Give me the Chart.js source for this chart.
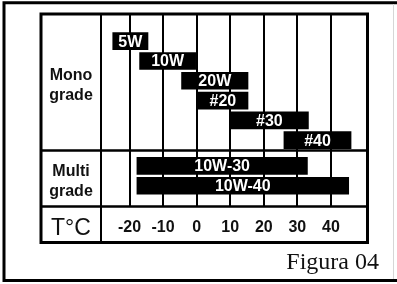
<!DOCTYPE html>
<html>
<head>
<meta charset="utf-8">
<script src="https://cdn.jsdelivr.net/npm/chart.js@4/dist/chart.umd.min.js"></script>
<style>
  html,body{margin:0;padding:0;background:#fff;}
  #wrap{width:397px;height:284px;}
</style>
</head>
<body>
<div id="wrap"><canvas id="oilChart" width="397" height="284"></canvas></div>
<script>
// oil grades vs usable ambient temperature (°C)
const grades   = ['5W','10W','20W','#20','#30','#40','10W-30','10W-40'];
const groups   = ['Mono','Mono','Mono','Mono','Mono','Mono','Multi','Multi'];
const minTemp  = [-25, -17, -4.5, 0, 10, 26, -17.8, -17.8];
const maxTemp  = [-14.5, 0, 15.3, 15.3, 33.3, 46, 33, 45.3];
const tempTicks = [-20, -10, 0, 10, 20, 30, 40];
const groupNames = ['Mono', 'Multi'];
const groupLabels = [['Mono','grade'], ['Multi','grade']];
const axisTitle = 'T°C';
const caption = 'Figura 04';

const SANS = '"Liberation Sans", Arial, Helvetica, sans-serif';
const GROUP_GAP = 0.3;   // extra space between mono and multi rows
const SEP_VALUE = 6.52;  // row line between the two groups
const LABEL_COL = 60;    // width of the left label column
const T_ROW = 36;        // height of the temperature row

// row slot for each grade: 1..n, multi grades pushed down a little
const slots = grades.map((g,i)=> i + 1 + (groups[i]==='Multi' ? GROUP_GAP : 0));
const bars = grades.map((g,i)=> ({ x: [minTemp[i], maxTemp[i]], y: slots[i] }));

const tablePlugin = {
  id: 'tableFrame',
  afterDatasetsDraw(chart){
    // white labels inside the bars
    const ctx = chart.ctx;
    const meta = chart.getDatasetMeta(0);
    ctx.save();
    ctx.fillStyle = '#fff';
    ctx.font = 'bold 16px ' + SANS;
    ctx.textAlign = 'center';
    ctx.textBaseline = 'middle';
    meta.data.forEach((el,i)=>{
      ctx.fillText(grades[i], (el.x + el.base)/2, el.y + 1);
    });
    ctx.restore();
  },
  afterDraw(chart){
    const {ctx, chartArea:a, scales:{y}} = chart;
    const left = a.left - LABEL_COL, right = a.right;
    const top = a.top, bottom = a.bottom + T_ROW;
    const sepY = y.getPixelForValue(SEP_VALUE);
    ctx.save();
    ctx.strokeStyle = '#000';
    // inner horizontal lines
    ctx.lineWidth = 2.5;
    ctx.beginPath();
    ctx.moveTo(left, sepY); ctx.lineTo(right, sepY);
    ctx.moveTo(left, a.bottom); ctx.lineTo(right, a.bottom);
    ctx.stroke();
    ctx.lineWidth = 2;
    ctx.beginPath();
    ctx.moveTo(a.left, top); ctx.lineTo(a.left, bottom);
    ctx.stroke();
    // table frame
    ctx.lineWidth = 3;
    ctx.strokeRect(left, top, right - left, bottom - top);
    // page frame
    ctx.beginPath();
    ctx.moveTo(4, 1.5); ctx.lineTo(4, 282);
    ctx.moveTo(2.5, 2.8); ctx.lineTo(397, 2.8);
    ctx.moveTo(2.5, 280.5); ctx.lineTo(397, 280.5);
    ctx.stroke();
    ctx.strokeStyle = '#d6d6d6';
    ctx.lineWidth = 1;
    ctx.beginPath();
    ctx.moveTo(393.5, 4); ctx.lineTo(393.5, 279);
    ctx.stroke();

    // group labels in the left column
    const cx = (left + a.left)/2;
    const bounds = [[top, sepY], [sepY, a.bottom]];
    ctx.fillStyle = '#111';
    ctx.textAlign = 'center';
    ctx.textBaseline = 'alphabetic';
    ctx.font = 'bold 16px ' + SANS;
    groupNames.forEach((g,k)=>{
      const mid = (bounds[k][0] + bounds[k][1])/2;
      ctx.fillText(groupLabels[k][0], cx, mid - 2);
      ctx.fillText(groupLabels[k][1], cx, mid + 18);
    });
    ctx.font = '23px ' + SANS;
    ctx.fillText(axisTitle, cx, (a.bottom + bottom)/2 + 10.5);

    ctx.font = '24px "Liberation Serif", "Times New Roman", serif';
    ctx.textAlign = 'right';
    ctx.fillText(caption, 379, 269);
    ctx.restore();
  }
};

new Chart(document.getElementById('oilChart'), {
  type: 'bar',
  data: {
    datasets: [{
      data: bars,
      backgroundColor: '#000',
      borderWidth: 0,
      barThickness: 17
    }]
  },
  options: {
    indexAxis: 'y',
    responsive: false,
    animation: false,
    layout: { padding: { left: 101, right: 29.5, top: 14, bottom: 284 - 206.5 - T_ROW } },
    plugins: { legend: { display: false }, tooltip: { enabled: false } },
    scales: {
      x: {
        type: 'linear',
        position: 'bottom',
        min: -28.5,
        max: 50.9,
        afterBuildTicks: s => { s.ticks = tempTicks.map(v=>({ value: v })); },
        afterFit: s => { s.height = T_ROW; },
        grid: { color: '#000', lineWidth: 2, drawTicks: false },
        border: { display: false },
        ticks: {
          color: '#111',
          padding: 11,
          maxRotation: 0,
          font: { family: SANS, size: 16, weight: 'bold' }
        }
      },
      y: {
        type: 'linear',
        display: false,
        reverse: true,
        min: 0.114,
        max: 8.864,
        grid: { display: false }
      }
    }
  },
  plugins: [tablePlugin]
});
</script>
</body>
</html>
